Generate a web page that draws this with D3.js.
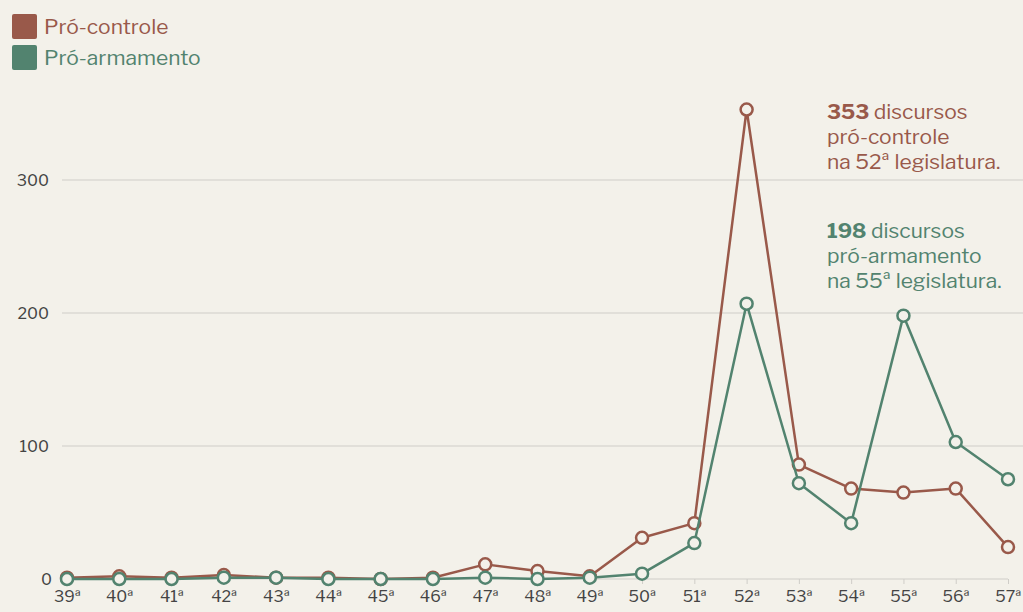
<!DOCTYPE html>
<html>
<head>
<meta charset="utf-8">
<script src="https://cdn.jsdelivr.net/npm/d3@7"></script>
<style>
  body { margin: 0; background: #f3f1ea; }
  svg { display: block; font-family: "Libre Franklin", Lato, "Noto Sans", sans-serif; }
</style>
</head>
<body>
<div id="chart"></div>
<script>
// legislaturas 39ª a 57ª
var legislaturas = ["39ª","40ª","41ª","42ª","43ª","44ª","45ª","46ª","47ª","48ª","49ª","50ª","51ª","52ª","53ª","54ª","55ª","56ª","57ª"];
var proControle  = [1, 2, 1, 3, 1, 1, 0, 1, 11, 6, 2, 31, 42, 353, 86, 68, 65, 68, 24];
var proArmamento = [0, 0, 0, 1, 1, 0, 0, 0, 1, 0, 1, 4, 27, 207, 72, 42, 198, 103, 75];
var yTicks = [0, 100, 200, 300];

var series = [
    {name: "Pró-controle", color: "#99594a", values: proControle},
    {name: "Pró-armamento", color: "#52836f", values: proArmamento}
];

var width = 1023, height = 612;
var margin = {top: 0, right: 15, bottom: 33, left: 67};

var svg = d3.select("#chart").append("svg")
    .attr("width", width)
    .attr("height", height);

var x = d3.scalePoint()
    .domain(legislaturas)
    .range([margin.left, width - margin.right]);

var y = d3.scaleLinear()
    .domain([0, 300])
    .range([height - margin.bottom, 180]);

// grade horizontal
svg.append("g")
    .selectAll("line")
    .data(yTicks.filter(function(d) { return d > 0; }))
    .enter().append("line")
    .attr("x1", 62)
    .attr("x2", width)
    .attr("y1", function(d) { return y(d); })
    .attr("y2", function(d) { return y(d); })
    .attr("stroke", "#cfcdc8")
    .attr("stroke-width", 1);

// eixo y
svg.append("g")
    .selectAll("text")
    .data(yTicks)
    .enter().append("text")
    .attr("x", function(d) { return d == 0 ? 52 : 49; })
    .attr("y", function(d) { return y(d); })
    .attr("dy", "0.35em")
    .attr("text-anchor", "end")
    .style("font-size", "16px")
    .style("fill", "#444")
    .text(function(d) { return d; });

// eixo x
var xAxis = svg.append("g")
    .attr("transform", "translate(0," + y(0) + ")")
    .call(d3.axisBottom(x).tickSize(5).tickPadding(7));

xAxis.select(".domain")
    .attr("d", "M" + x.range()[0] + ",0H" + x.range()[1])
    .attr("stroke", "#cfcdc8");
xAxis.selectAll(".tick line").attr("stroke", "#cfcdc8");
xAxis.selectAll(".tick text")
    .style("font-size", "16px")
    .style("font-family", "\"Libre Franklin\", Lato, \"Noto Sans\", sans-serif")
    .style("fill", "#444");

var line = d3.line()
    .x(function(d, i) { return x(legislaturas[i]); })
    .y(function(d) { return y(d); });

series.forEach(function(s) {
    var g = svg.append("g");
    g.append("path")
        .datum(s.values)
        .attr("d", line)
        .attr("fill", "none")
        .attr("stroke", s.color)
        .attr("stroke-width", 2.5)
        .attr("stroke-linejoin", "round");

    g.selectAll("circle")
        .data(s.values)
        .enter().append("circle")
        .attr("cx", function(d, i) { return x(legislaturas[i]); })
        .attr("cy", function(d) { return y(d); })
        .attr("r", 6)
        .attr("fill", "#f3f1ea")
        .attr("stroke", s.color)
        .attr("stroke-width", 2.5);
});

// legenda
var legend = svg.append("g")
    .selectAll("g")
    .data(series)
    .enter().append("g")
    .attr("transform", function(d, i) { return "translate(12," + (14 + i * 31) + ")"; });

legend.append("rect")
    .attr("width", 25)
    .attr("height", 25)
    .attr("rx", 2)
    .attr("fill", function(d) { return d.color; });

legend.append("text")
    .attr("x", 32)
    .attr("y", 12.5)
    .attr("dy", "0.35em")
    .style("font-size", "21px")
    .style("fill", function(d) { return d.color; })
    .text(function(d) { return d.name; });

// anotações
var notas = [
    {num: "353", lines: [" discursos", "pró-controle", "na 52ª legislatura."], color: "#99594a", top: 119},
    {num: "198", lines: [" discursos", "pró-armamento", "na 55ª legislatura."], color: "#52836f", top: 238}
];

notas.forEach(function(n) {
    var t = svg.append("text")
        .attr("x", 827)
        .attr("y", n.top)
        .style("font-size", "21px")
        .style("fill", n.color);
    t.append("tspan").style("font-weight", "bold").text(n.num);
    t.append("tspan").text(n.lines[0]);
    t.append("tspan").attr("x", 827).attr("dy", 25).text(n.lines[1]);
    t.append("tspan").attr("x", 827).attr("dy", 25).text(n.lines[2]);
});
</script>
</body>
</html>
